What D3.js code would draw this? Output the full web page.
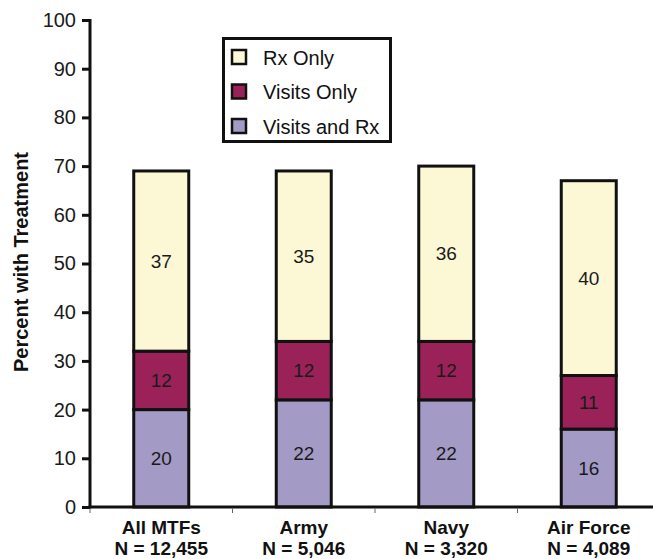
<!DOCTYPE html>
<html>
<head>
<meta charset="utf-8">
<script src="https://cdn.jsdelivr.net/npm/d3@7"></script>
<style>
  html, body { margin: 0; padding: 0; background: #fff; }
  svg { display: block; font-family: "Liberation Sans", Arial, sans-serif; }
</style>
</head>
<body>
<svg id="chart" width="653" height="559"></svg>
<script>
// Treatment categories per service group (percent of members)
const groups = ["All MTFs", "Army", "Navy", "Air Force"];
const groupN = ["N = 12,455", "N = 5,046", "N = 3,320", "N = 4,089"];
const seriesNames = ["Visits and Rx", "Visits Only", "Rx Only"];
const visitsAndRx = [20, 22, 22, 16];
const visitsOnly = [12, 12, 12, 11];
const rxOnly = [37, 35, 36, 40];
const yTicks = [0, 10, 20, 30, 40, 50, 60, 70, 80, 90, 100];
const seriesColors = ["#a39ac6", "#9a2259", "#fcf8d6"];
const legendOrder = ["Rx Only", "Visits Only", "Visits and Rx"];

const rows = groups.map((g, i) => ({
  group: g,
  "Visits and Rx": visitsAndRx[i],
  "Visits Only": visitsOnly[i],
  "Rx Only": rxOnly[i]
}));

const svg = d3.select("#chart");
const plotLeft = 90, plotRight = 660, plotTop = 20, plotBottom = 507;

const x = d3.scaleBand().domain(groups).range([plotLeft, plotRight]).paddingInner(0).paddingOuter(0);
const y = d3.scaleLinear().domain([0, 100]).range([plotBottom, plotTop]);
const color = d3.scaleOrdinal().domain(seriesNames).range(seriesColors);

const stack = d3.stack().keys(seriesNames);
const layers = stack(rows);

const barW = 55;

// Stacked bars
const layerG = svg.append("g").selectAll("g")
  .data(layers).join("g")
  .attr("fill", d => color(d.key));

layerG.selectAll("rect")
  .data(d => d.map(v => ({ key: d.key, v })))
  .join("rect")
  .attr("x", d => x(d.v.data.group) + x.bandwidth() / 2 - barW / 2)
  .attr("width", barW)
  .attr("y", d => y(d.v[1]))
  .attr("height", d => y(d.v[0]) - y(d.v[1]))
  .attr("stroke", "#111")
  .attr("stroke-width", 3);

// Segment value labels
layerG.selectAll("text")
  .data(d => d.map(v => ({ key: d.key, v })))
  .join("text")
  .attr("x", d => x(d.v.data.group) + x.bandwidth() / 2)
  .attr("y", d => y((d.v[0] + d.v[1]) / 2))
  .attr("dy", "0.35em")
  .attr("text-anchor", "middle")
  .attr("fill", "#1a1a1a")
  .attr("font-size", 19)
  .text(d => d.v[1] - d.v[0]);

// Y axis
const yAxis = svg.append("g")
  .attr("transform", `translate(${plotLeft},0)`)
  .call(d3.axisLeft(y).tickValues(yTicks).tickSize(8).tickPadding(6));
yAxis.select(".domain").attr("stroke", "#111").attr("stroke-width", 3)
  .attr("d", `M0,${plotBottom + 1.5}V${plotTop - 1}`);
yAxis.selectAll(".tick line").attr("stroke", "#111").attr("stroke-width", 3);
yAxis.selectAll(".tick text").attr("font-size", 20).attr("fill", "#1a1a1a")
  .attr("font-family", "Liberation Sans, Arial, sans-serif");

// X axis baseline and small separators between groups
const xAxis = svg.append("g").attr("transform", `translate(0,${plotBottom})`);
xAxis.append("line")
  .attr("x1", plotLeft - 1.5).attr("x2", plotRight)
  .attr("stroke", "#111").attr("stroke-width", 3);
const seps = groups.map(g => x(g));
xAxis.selectAll("line.sep").data(seps).join("line")
  .attr("class", "sep")
  .attr("x1", d => d).attr("x2", d => d)
  .attr("y1", 1.5).attr("y2", 6)
  .attr("stroke", "#666").attr("stroke-width", 1);

// Category labels (two lines)
const catG = svg.append("g");
catG.selectAll("text.cat").data(groups).join("text")
  .attr("class", "cat")
  .attr("x", d => x(d) + x.bandwidth() / 2)
  .attr("y", 534)
  .attr("text-anchor", "middle")
  .attr("font-weight", "bold")
  .attr("font-size", 19)
  .attr("fill", "#111")
  .text(d => d);
catG.selectAll("text.n").data(groups).join("text")
  .attr("class", "n")
  .attr("x", d => x(d) + x.bandwidth() / 2)
  .attr("y", 555)
  .attr("text-anchor", "middle")
  .attr("font-weight", "bold")
  .attr("font-size", 19)
  .attr("fill", "#111")
  .text((d, i) => groupN[i]);

// Y axis title
svg.append("text")
  .attr("transform", `translate(28,262) rotate(-90)`)
  .attr("text-anchor", "middle")
  .attr("font-weight", "bold")
  .attr("font-size", 20)
  .attr("fill", "#111")
  .text("Percent with Treatment");

// Legend
const legend = svg.append("g");
legend.append("rect")
  .attr("x", 223.5).attr("y", 38.5).attr("width", 167).attr("height", 103)
  .attr("fill", "#fff").attr("stroke", "#111").attr("stroke-width", 3);
const items = legend.selectAll("g.item").data(legendOrder).join("g")
  .attr("class", "item")
  .attr("transform", (d, i) => `translate(0,${57 + i * 34.5})`);
items.append("rect")
  .attr("x", 232).attr("y", -7).attr("width", 14).attr("height", 14)
  .attr("fill", d => color(d)).attr("stroke", "#111").attr("stroke-width", 2.5);
items.append("text")
  .attr("x", 263).attr("y", 7.5)
  .attr("font-size", 20)
  .attr("fill", "#111")
  .text(d => d);
</script>
</body>
</html>
